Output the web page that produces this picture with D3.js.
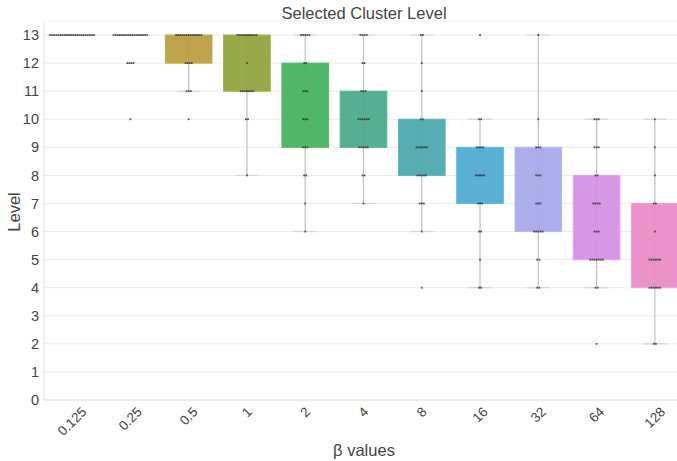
<!DOCTYPE html>
<html>
<head>
<meta charset="utf-8">
<script src="https://cdn.jsdelivr.net/npm/d3@7"></script>
<style>
  body { margin: 0; background: #fff; }
  text { font-family: "Liberation Sans", Arial, sans-serif; fill: #444; }
</style>
</head>
<body>
<script>
var width = 677
var height = 461
var margin = { left: 43, top: 21, bottom: 61 }

// beta values on the x axis
var betas = ['0.125', '0.25', '0.5', '1', '2', '4', '8', '16', '32', '64', '128']
// box edges and whisker ends
var q1 = [13, 13, 12, 11, 9, 9, 8, 7, 6, 5, 4]
var q3 = [13, 13, 13, 13, 12, 11, 10, 9, 9, 8, 7]
var whiskerLo = [13, 13, 11, 8, 6, 7, 6, 4, 4, 4, 2]
var whiskerHi = [13, 13, 13, 13, 13, 13, 13, 10, 13, 10, 10]
// runs per level: [level, count]
var points = [
    [[13, 22]],
    [[13, 17], [12, 4], [10, 1]],
    [[13, 13], [12, 4], [11, 3], [10, 1]],
    [[13, 10], [12, 1], [11, 7], [10, 2], [8, 1]],
    [[13, 5], [12, 2], [11, 3], [10, 3], [9, 3], [8, 2], [7, 1], [6, 1]],
    [[13, 4], [12, 2], [11, 3], [10, 6], [9, 5], [8, 2], [7, 1]],
    [[13, 2], [12, 1], [11, 1], [10, 2], [9, 6], [8, 5], [7, 3], [6, 1], [4, 1]],
    [[13, 1], [10, 2], [9, 4], [8, 5], [7, 3], [6, 2], [5, 1], [4, 2]],
    [[13, 1], [10, 1], [9, 3], [8, 3], [7, 3], [6, 5], [5, 2], [4, 2]],
    [[10, 3], [9, 3], [8, 2], [7, 4], [6, 3], [5, 7], [4, 2], [2, 1]],
    [[10, 1], [9, 1], [8, 1], [7, 2], [6, 1], [5, 6], [4, 6], [2, 2]]
]
var yTicks = d3.range(0, 14)
var colors = ['#ee7f86', '#d9903f', '#b99b3e', '#8fa33b', '#45b05e', '#49a98a',
    '#4aa7ab', '#4ea9d2', '#a5a8e8', '#d48fe4', '#e88bc6']

var svg = d3.select('body').append('svg').attr('width', width).attr('height', height)

var x = d3.scalePoint().domain(betas).range([margin.left, 684]).padding(0.5)
var y = d3.scaleLinear().domain([0, 13.5]).range([height - margin.bottom, margin.top])
var step = x.step()
var boxW = step * 0.8

// grid
svg.append('g').selectAll('line').data(yTicks).enter().append('line')
    .attr('x1', margin.left).attr('x2', width)
    .attr('y1', d => y(d)).attr('y2', d => y(d))
    .attr('stroke', '#ececec').attr('stroke-width', 1)

svg.append('line').attr('x1', margin.left + 1).attr('x2', margin.left + 1)
    .attr('y1', y(13.5)).attr('y2', y(0)).attr('stroke', '#e4e4e4')
svg.append('line').attr('x1', margin.left).attr('x2', width)
    .attr('y1', y(13.5)).attr('y2', y(13.5)).attr('stroke', '#f2f2f2')
svg.append('line').attr('x1', margin.left).attr('x2', width)
    .attr('y1', y(0)).attr('y2', y(0)).attr('stroke', '#e4e4e4')

// y axis labels
var yAxis = d3.axisLeft(y).tickValues(yTicks).tickSize(0).tickPadding(4)
var gy = svg.append('g').attr('transform', `translate(${margin.left - 0},0)`).call(yAxis)
gy.select('.domain').remove()
gy.selectAll('text').style('font-size', '14.5px').attr('fill', '#444')

var g = svg.append('g')

betas.forEach((b, i) => {
    var cx = x(b)
    var c = colors[i]
    // whisker
    g.append('line').attr('x1', cx).attr('x2', cx)
        .attr('y1', y(whiskerLo[i])).attr('y2', y(whiskerHi[i]))
        .attr('stroke', '#c4c4c4').attr('stroke-width', 1.3)
    // caps
    ;[whiskerLo[i], whiskerHi[i]].forEach(v => {
        g.append('line').attr('x1', cx - boxW / 4).attr('x2', cx + boxW / 4)
            .attr('y1', y(v)).attr('y2', y(v))
            .attr('stroke', '#d6d6d6').attr('stroke-width', 1.2)
    })
    // box
    var collapsed = q1[i] === q3[i]
    g.append('rect')
        .attr('x', cx - boxW / 2).attr('width', boxW)
        .attr('y', y(q3[i])).attr('height', Math.max(0, y(q1[i]) - y(q3[i])))
        .attr('fill', c).attr('fill-opacity', 0.93)
        .attr('stroke', collapsed ? '#c8c8c8' : d3.color(c).brighter(0.25))
        .attr('stroke-width', 1)
    // points
    points[i].forEach(p => {
        var n = p[1]
        var sp = 2.1
        d3.range(n).forEach(k => {
            g.append('rect')
                .attr('x', cx + (k - (n - 1) / 2) * sp - 0.9)
                .attr('y', y(p[0]) - 0.9)
                .attr('width', 1.8).attr('height', 1.8)
                .attr('fill', '#3a3a3a').attr('fill-opacity', 0.85)
        })
    })
})

// x labels, rotated, top of bbox at fixed y
var xl = svg.append('g')
betas.forEach(b => {
    var t = xl.append('text').text(b).style('font-size', '13.5px')
        .attr('text-anchor', 'middle').attr('dominant-baseline', 'central')
    var w = t.node().getComputedTextLength()
    var cy = 406 + (w + 10) * Math.SQRT1_2 / 2
    t.attr('transform', `translate(${x(b)},${cy}) rotate(-45)`)
})

svg.append('text').text('Selected Cluster Level')
    .attr('x', 364).attr('y', 19).attr('text-anchor', 'middle')
    .style('font-size', '16.5px').attr('fill', '#333')

svg.append('text').text('Level')
    .attr('transform', `translate(20,212) rotate(-90)`).attr('text-anchor', 'middle')
    .style('font-size', '16.5px').attr('fill', '#333')

svg.append('text').text('β values')
    .attr('x', 364).attr('y', 456).attr('text-anchor', 'middle')
    .style('font-size', '16.5px').attr('fill', '#333')
</script>
</body>
</html>
